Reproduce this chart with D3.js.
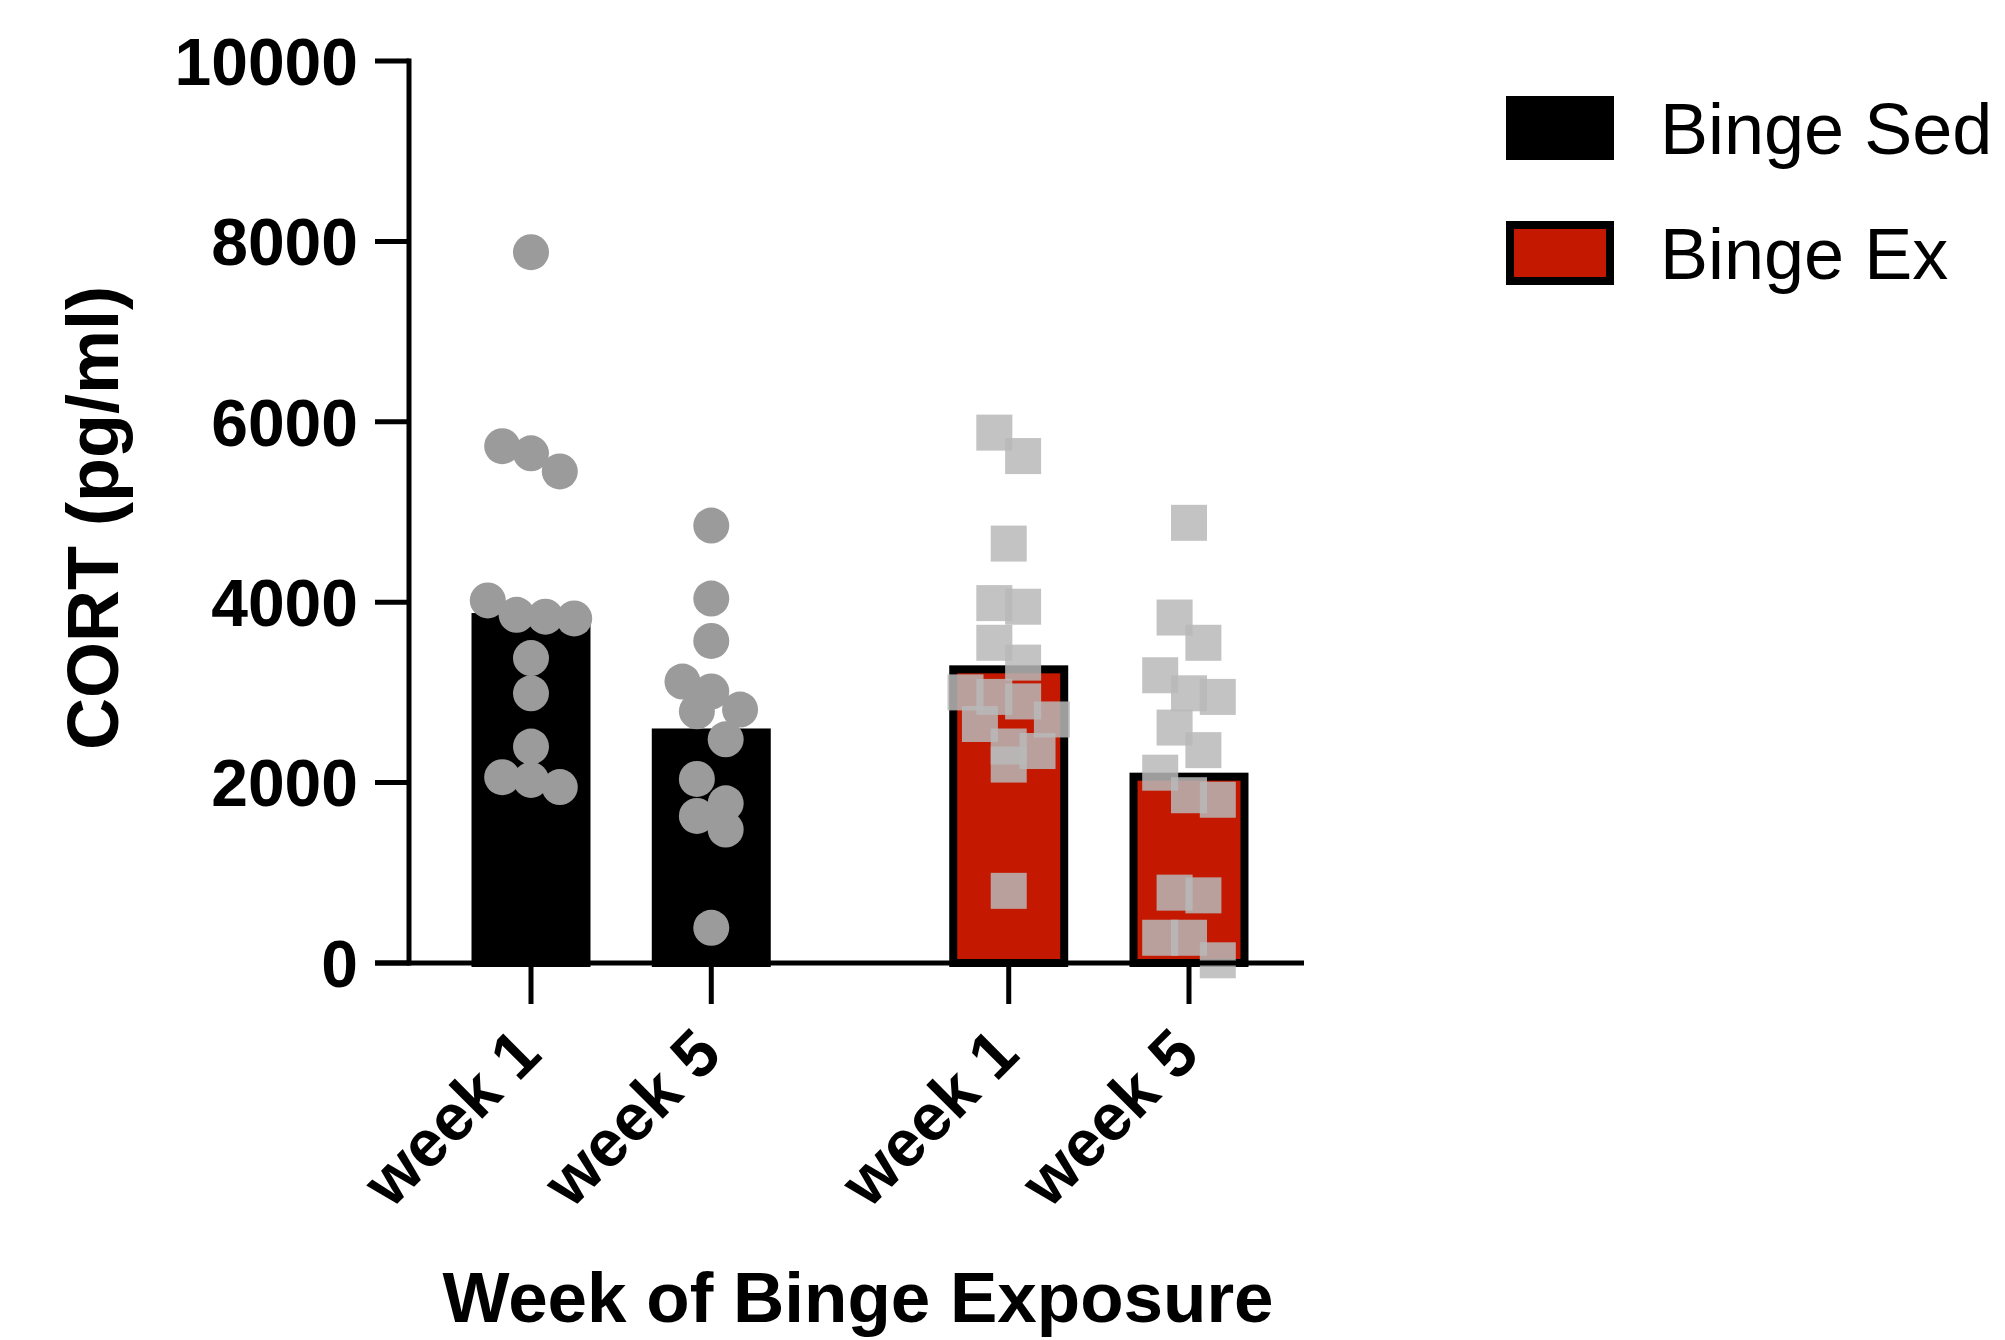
<!DOCTYPE html>
<html>
<head>
<meta charset="utf-8">
<script src="https://cdn.jsdelivr.net/npm/d3@7"></script>
<style>
  html, body { margin: 0; padding: 0; background: #fff; }
  svg { display: block; }
</style>
</head>
<body>
<svg id="chart" width="2005" height="1340"></svg>
<script>
// Data
const groups = ['Binge Sed', 'Binge Ex'];
const weeks = ['week 1', 'week 5'];
const sedMeans = [3880, 2600];
const exMeans = [3300, 2110];
const sedWeek1 = [7880, 5730, 5650, 5450, 4020, 3860, 3840, 3820, 3380, 2990, 2400, 2060, 2030, 1950];
const sedWeek5 = [4850, 4040, 3570, 3120, 3010, 2810, 2790, 2480, 2040, 1770, 1630, 1480, 390];
const exWeek1 = [5880, 5620, 4650, 3990, 3950, 3550, 3330, 3000, 2950, 2900, 2700, 2650, 2400, 2350, 2200, 800];
const exWeek5 = [4880, 3830, 3550, 3190, 2990, 2950, 2610, 2360, 2110, 1860, 1810, 780, 750, 280, 280, 30];
const yTicks = [0, 2000, 4000, 6000, 8000, 10000];

const svg = d3.select('#chart');
const font = '"Liberation Sans", Arial, Helvetica, sans-serif';

// scales
const groupGap = 0.65; // extra space between the two groups, in slot units
const slot = (g, w) => g * 2 + w + g * groupGap;
const x = d3.scaleLinear().domain([0, slot(1, 1)]).range([531, 1189]);
const y = d3.scaleLinear().domain([0, 10000]).range([963, 61]);
const barW = 0.66 * (x(1) - x(0));

const colors = ['#000000', '#c41900'];
const ptSize = 36;

// bars + points, one entry per column
const columns = [
  { g: 0, w: 0, mean: sedMeans[0], pts: sedWeek1 },
  { g: 0, w: 1, mean: sedMeans[1], pts: sedWeek5 },
  { g: 1, w: 0, mean: exMeans[0], pts: exWeek1 },
  { g: 1, w: 1, mean: exMeans[1], pts: exWeek5 }
];

// simple Prism-like scatter: group close values into rows, spread each row symmetrically
function scatter(values, cx) {
  const sorted = values.slice().sort((a, b) => b - a);
  const rows = [];
  let row = null;
  sorted.forEach(v => {
    if (row && y(v) - y(row[0]) < ptSize * 0.8) row.push(v);
    else { row = [v]; rows.push(row); }
  });
  const step = ptSize * 0.8;
  const out = [];
  rows.forEach(r => {
    r.forEach((v, i) => out.push({ v: v, x: cx + (i - (r.length - 1) / 2) * step }));
  });
  return out;
}

const plot = svg.append('g');

columns.forEach(c => {
  const cx = x(slot(c.g, c.w));
  plot.append('rect')
    .attr('x', cx - barW / 2 + 4)
    .attr('y', y(c.mean) + 4)
    .attr('width', barW - 8)
    .attr('height', y(0) - y(c.mean) - 4)
    .attr('fill', colors[c.g])
    .attr('stroke', '#000')
    .attr('stroke-width', 8);
});

columns.forEach(c => {
  const cx = x(slot(c.g, c.w));
  const pts = scatter(c.pts, cx);
  if (c.g === 0) {
    plot.append('g').selectAll('circle')
      .data(pts)
      .join('circle')
      .attr('cx', d => d.x)
      .attr('cy', d => y(d.v))
      .attr('r', ptSize / 2)
      .attr('fill', '#9b9b9b');
  } else {
    plot.append('g').selectAll('rect')
      .data(pts)
      .join('rect')
      .attr('x', d => d.x - ptSize / 2)
      .attr('y', d => y(d.v) - ptSize / 2)
      .attr('width', ptSize)
      .attr('height', ptSize)
      .attr('fill', '#b8b8b8')
      .attr('fill-opacity', 0.85);
  }
});

// y axis
const yAxis = svg.append('g');
yAxis.append('line')
  .attr('x1', 409).attr('x2', 409)
  .attr('y1', y(10000) - 2.5).attr('y2', y(0) + 2.5)
  .attr('stroke', '#000').attr('stroke-width', 5);
yAxis.selectAll('line.tick')
  .data(yTicks)
  .join('line')
  .attr('class', 'tick')
  .attr('x1', 375).attr('x2', 409)
  .attr('y1', d => y(d)).attr('y2', d => y(d))
  .attr('stroke', '#000').attr('stroke-width', 5);
yAxis.selectAll('text')
  .data(yTicks)
  .join('text')
  .attr('x', 358)
  .attr('y', d => y(d))
  .attr('dy', '0.36em')
  .attr('text-anchor', 'end')
  .attr('font-family', font)
  .attr('font-weight', 'bold')
  .attr('font-size', 66)
  .text(d => d);

// x axis
const xAxis = svg.append('g');
xAxis.append('line')
  .attr('x1', 375).attr('x2', 1304)
  .attr('y1', y(0)).attr('y2', y(0))
  .attr('stroke', '#000').attr('stroke-width', 5);
const xTicks = [];
groups.forEach((g, gi) => weeks.forEach((w, wi) => xTicks.push({ label: w, pos: slot(gi, wi) })));
xAxis.selectAll('line.tick')
  .data(xTicks)
  .join('line')
  .attr('class', 'tick')
  .attr('x1', d => x(d.pos)).attr('x2', d => x(d.pos))
  .attr('y1', y(0)).attr('y2', y(0) + 41)
  .attr('stroke', '#000').attr('stroke-width', 5);
xAxis.selectAll('text')
  .data(xTicks)
  .join('text')
  .attr('transform', d => `translate(${x(d.pos) + 13},${y(0) + 94}) rotate(-45)`)
  .attr('text-anchor', 'end')
  .attr('font-family', font)
  .attr('font-weight', 'bold')
  .attr('font-size', 66)
  .text(d => d.label);

// axis titles
svg.append('text')
  .attr('transform', 'translate(92,518) rotate(-90)')
  .attr('text-anchor', 'middle')
  .attr('dy', '0.36em')
  .attr('font-family', font)
  .attr('font-weight', 'bold')
  .attr('font-size', 72)
  .text('CORT (pg/ml)');

svg.append('text')
  .attr('x', 858)
  .attr('y', 1322)
  .attr('text-anchor', 'middle')
  .attr('font-family', font)
  .attr('font-weight', 'bold')
  .attr('font-size', 71)
  .text('Week of Binge Exposure');

// legend
const legend = svg.append('g');
groups.forEach((g, i) => {
  const ly = 128 + i * 125;
  legend.append('rect')
    .attr('x', 1510).attr('y', ly - 28)
    .attr('width', 100).attr('height', 56)
    .attr('fill', colors[i])
    .attr('stroke', '#000').attr('stroke-width', 8);
  legend.append('text')
    .attr('x', 1660).attr('y', ly)
    .attr('dy', '0.36em')
    .attr('font-family', font)
    .attr('font-size', 72)
    .text(g);
});
</script>
</body>
</html>
